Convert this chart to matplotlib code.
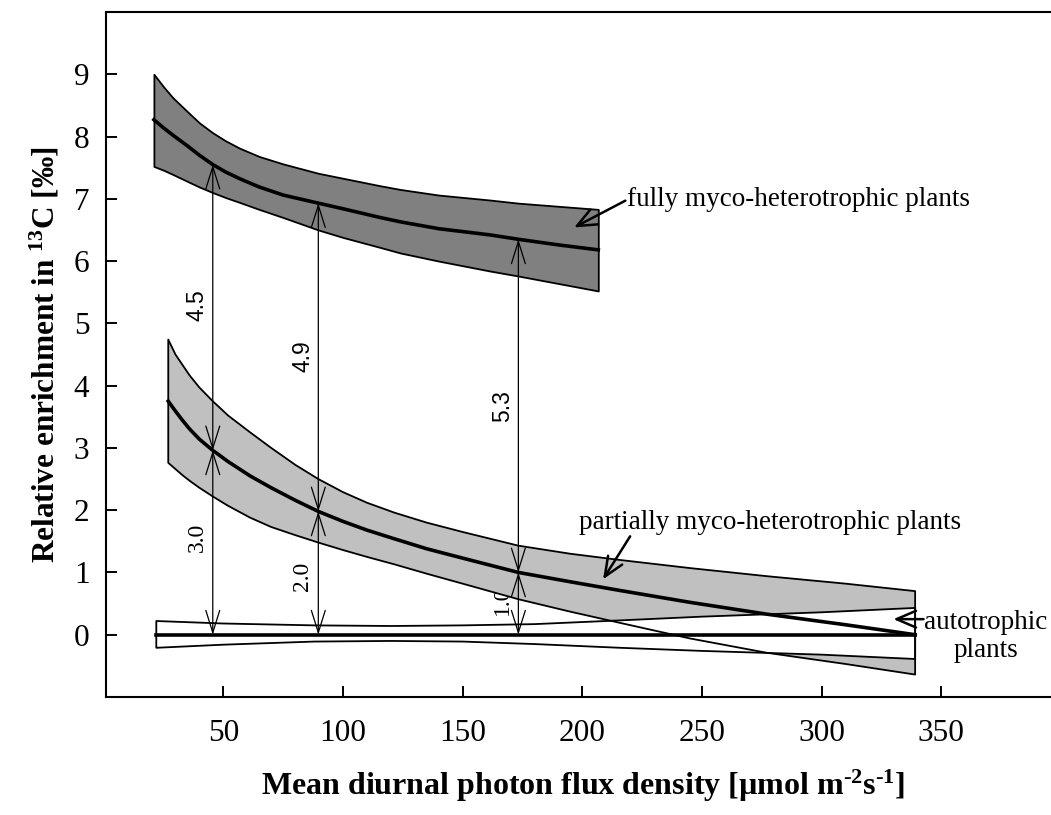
import matplotlib
matplotlib.use("Agg")
import matplotlib.pyplot as plt

plt.rcParams['font.family'] = 'Liberation Serif'
plt.rcParams['mathtext.fontset'] = 'custom'
plt.rcParams['mathtext.rm'] = 'Liberation Serif'
plt.rcParams['mathtext.bf'] = 'Liberation Serif:bold'

# fully myco-heterotrophic plants (band + mean)
fmh_x = [21, 25, 29, 35, 40, 45.6, 51, 57, 65, 75, 89.7, 100, 115.5, 124, 140, 161.5, 173.3, 190, 206.7]
fmh_up = [9.00, 8.80, 8.62, 8.40, 8.22, 8.06, 7.93, 7.81, 7.68, 7.56, 7.41, 7.33, 7.21, 7.15, 7.06,
          6.98, 6.93, 6.88, 6.83]
fmh_mid = [8.27, 8.14, 8.02, 7.85, 7.70, 7.55, 7.43, 7.32, 7.19, 7.06, 6.93, 6.84, 6.70, 6.63, 6.52,
           6.42, 6.35, 6.26, 6.18]
fmh_lo = [7.52, 7.46, 7.39, 7.28, 7.19, 7.10, 7.02, 6.94, 6.83, 6.70, 6.50, 6.38, 6.22, 6.13, 6.00,
          5.84, 5.76, 5.64, 5.52]

# partially myco-heterotrophic plants
pmh_x = [27, 30, 33, 36, 40, 45.6, 52, 61.2, 70, 80, 89.7, 100, 110, 121.5, 135, 150, 173.3, 195,
         215.8, 245, 277.1, 310, 339.1]
pmh_up = [4.74, 4.50, 4.33, 4.16, 3.97, 3.75, 3.52, 3.25, 3.00, 2.73, 2.50, 2.29, 2.12, 1.96, 1.80,
          1.65, 1.43, 1.30, 1.20, 1.07, 0.94, 0.82, 0.70]
pmh_mid = [3.75, 3.59, 3.44, 3.30, 3.14, 2.96, 2.78, 2.55, 2.36, 2.16, 1.98, 1.82, 1.68, 1.54, 1.38,
           1.23, 1.00, 0.85, 0.71, 0.52, 0.33, 0.16, 0.00]
pmh_lo = [2.76, 2.66, 2.56, 2.47, 2.36, 2.22, 2.07, 1.88, 1.73, 1.60, 1.48, 1.36, 1.25, 1.13, 0.98,
          0.82, 0.57, 0.37, 0.19, -0.06, -0.29, -0.47, -0.64]

# autotrophic plants (reference)
aut_x = [22, 50, 88, 120, 150, 180, 215.8, 250, 300, 339.1]
aut_up = [0.22, 0.18, 0.15, 0.14, 0.15, 0.17, 0.23, 0.29, 0.36, 0.43]
aut_lo = [-0.21, -0.16, -0.11, -0.10, -0.11, -0.15, -0.21, -0.26, -0.32, -0.39]
aut_mid = [0] * len(aut_x)

# enrichment arrows
arr_x = [45.6, 89.7, 173.3]
arr_pmh = [2.96, 1.98, 1.00]
arr_fmh = [7.55, 6.93, 6.35]
lab_low = ['3.0', '2.0', '1.0']
lab_high = ['4.5', '4.9', '5.3']
lab_low_y = [1.57, 0.94, 0.55]
lab_high_y = [5.3, 4.47, 3.67]

fig = plt.figure(figsize=(10.51, 8.15), dpi=100)
ax = fig.add_axes([0.1009, 0.1448, 0.9085, 0.8405])

ax.fill_between(fmh_x, fmh_lo, fmh_up, facecolor='#808080', edgecolor='black', lw=1.3, zorder=2)
ax.plot(fmh_x, fmh_mid, color='black', lw=2.6, zorder=3)

ax.fill_between(pmh_x, pmh_lo, pmh_up, facecolor='#c0c0c0', edgecolor='none', zorder=2)
ax.fill_between(aut_x, aut_lo, aut_up, facecolor='white', edgecolor='none', zorder=2.1)
ax.fill_between(pmh_x, pmh_lo, pmh_up, facecolor='none', edgecolor='black', lw=1.3, zorder=3)
ax.fill_between(aut_x, aut_lo, aut_up, facecolor='none', edgecolor='black', lw=1.3, zorder=3)
ax.plot(pmh_x, pmh_mid, color='black', lw=2.6, zorder=3)
ax.plot(aut_x, aut_mid, color='black', lw=2.6, zorder=3)

aprops = dict(arrowstyle='<->,head_length=1.6,head_width=0.5', color='black', lw=0.9,
              shrinkA=0, shrinkB=0, mutation_scale=10)
for x, p, f, l1, l2, y1, y2 in zip(arr_x, arr_pmh, arr_fmh, lab_low, lab_high, lab_low_y, lab_high_y):
    ax.annotate('', xy=(x, 0), xytext=(x, p), arrowprops=aprops, zorder=4)
    ax.annotate('', xy=(x, p), xytext=(x, f), arrowprops=aprops, zorder=4)
    ax.text(x - 6.6, y1, l1, rotation=90, ha='center', va='center', fontsize=17, zorder=1)
    ax.text(x - 6.6, y2, l2, rotation=90, ha='center', va='center', fontsize=16.5,
            family='Liberation Sans', zorder=1)

lprops = dict(arrowstyle='->,head_length=0.7,head_width=0.3', color='black', lw=1.8,
              shrinkA=0, shrinkB=0, mutation_scale=20)
ax.text(218.5, 6.99, 'fully myco-heterotrophic plants', fontsize=19.5, ha='left', va='center')
ax.annotate('', xy=(196.6, 6.54), xytext=(218, 6.97), arrowprops=lprops)
ax.text(198.6, 1.80, 'partially myco-heterotrophic plants', fontsize=19.5, ha='left', va='center')
ax.annotate('', xy=(208.7, 0.89), xytext=(220, 1.58), arrowprops=lprops)
ax.text(368.5, -0.03, 'autotrophic\nplants', fontsize=19.5, ha='center', va='center',
        multialignment='center', linespacing=1.15)
ax.annotate('', xy=(330, 0.25), xytext=(342.6, 0.25), arrowprops=lprops)

ax.set_xlim(1, 400)
ax.set_ylim(-1, 10)
ax.set_xticks([50, 100, 150, 200, 250, 300, 350])
ax.set_yticks(range(0, 10))
ax.tick_params(direction='in', length=8, width=1.4, labelsize=22.5)
ax.tick_params(axis='x', pad=16)
ax.tick_params(axis='y', pad=12)
for s in ['left', 'bottom', 'top']:
    ax.spines[s].set_linewidth(1.5)
ax.spines['right'].set_visible(False)

ax.set_xlabel(r'Mean diurnal photon flux density [µmol m$\mathbf{^{\text{-}2}}$s$\mathbf{^{\text{-}1}}$]',
              fontsize=23, fontweight='bold', labelpad=14)
ax.set_ylabel(r'Relative enrichment in $\mathbf{^{13}}$C [‰]', fontsize=22.5, fontweight='bold',
              labelpad=9)

fig.savefig('out.png', dpi=100)
